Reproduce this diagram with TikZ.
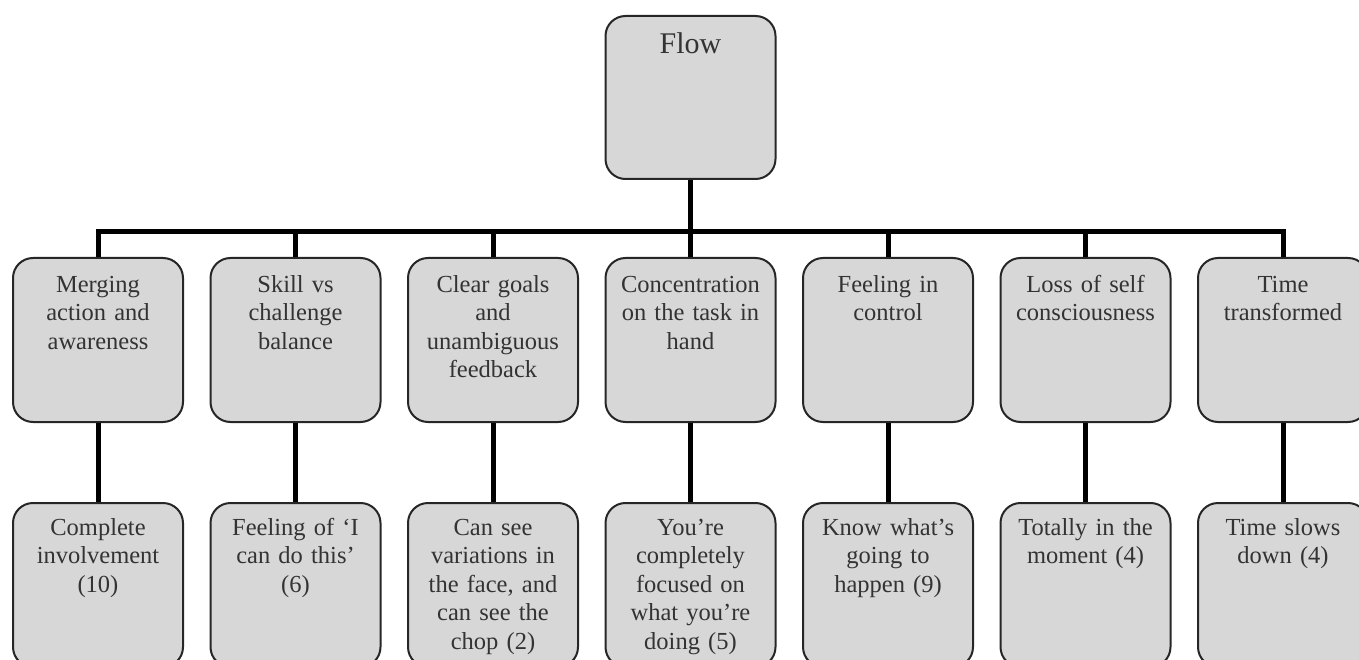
\documentclass[tikz,border=0pt]{standalone}
\usepackage{fontspec}
\setmainfont{Liberation Serif}
\definecolor{boxgray}{HTML}{D7D7D7}
\tikzset{
  box/.style={draw=black!85, line width=2pt, fill=boxgray, rounded corners=20pt,
    inner sep=0pt, minimum width=170pt, text width=166pt, align=center,
    anchor=north, text=black!80, font=\fontsize{24.5}{28.5}\selectfont},
  midbox/.style={box, text height=34pt, text depth=130pt},
  lowbox/.style={box, text height=32pt, text depth=132pt},
  conn/.style={line width=5pt, black}
}
\begin{document}
\begin{tikzpicture}[x=1pt, y=-1pt]
\useasboundingbox (0,0) rectangle (1359,660);
\clip (0,0) rectangle (1359,660);
% Racine
\node[box, font=\fontsize{30}{34}\selectfont, text height=38pt, text depth=125pt] (flow) at (690.5,15) {Flow};
\coordinate (bar) at (690.5,232);
% Dimensions
\node[midbox] (m1) at (98,257) {Merging\\action and\\awareness};
\node[midbox] (m2) at (295.5,257) {Skill vs\\challenge\\balance};
\node[midbox] (m3) at (493,257) {Clear goals\\and\\unambiguous\\feedback};
\node[midbox] (m4) at (690.5,257) {Concentration\\on the task in\\hand};
\node[midbox] (m5) at (888,257) {Feeling in\\control};
\node[midbox] (m6) at (1085.5,257) {Loss of self\\consciousness};
\node[midbox] (m7) at (1283,257) {Time\\transformed};
% Citations
\node[lowbox] (b1) at (98,502) {Complete\\involvement\\(10)};
\node[lowbox] (b2) at (295.5,502) {Feeling of ‘I\\can do this’\\(6)};
\node[lowbox] (b3) at (493,502) {Can see\\variations in\\the face, and\\can see the\\chop (2)};
\node[lowbox] (b4) at (690.5,502) {You’re\\completely\\focused on\\what you’re\\doing (5)};
\node[lowbox] (b5) at (888,502) {Know what’s\\going to\\happen (9)};
\node[lowbox] (b6) at (1085.5,502) {Totally in the\\moment (4)};
\node[lowbox] (b7) at (1283,502) {Time slows\\down (4)};
% Liaisons
\draw[conn] (flow.south) -- (bar);
\draw[conn] (bar) -| (m1.north);
\draw[conn] (bar) -| (m2.north);
\draw[conn] (bar) -| (m3.north);
\draw[conn] (bar) -- (m4.north);
\draw[conn] (bar) -| (m5.north);
\draw[conn] (bar) -| (m6.north);
\draw[conn] (bar) -| (m7.north);
\draw[conn] (m1.south) -- (b1.north);
\draw[conn] (m2.south) -- (b2.north);
\draw[conn] (m3.south) -- (b3.north);
\draw[conn] (m4.south) -- (b4.north);
\draw[conn] (m5.south) -- (b5.north);
\draw[conn] (m6.south) -- (b6.north);
\draw[conn] (m7.south) -- (b7.north);
\end{tikzpicture}
\end{document}
